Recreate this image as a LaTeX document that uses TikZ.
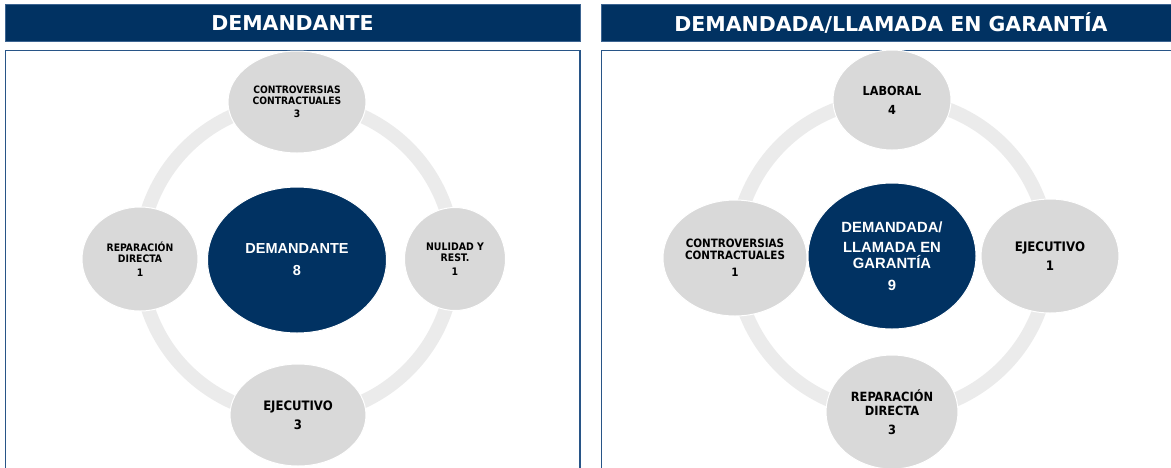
\documentclass[tikz,border=0pt]{standalone}
\usepackage{fontspec}
\newfontfamily\tah{DejaVu Sans}
\newfontfamily\tahc{DejaVu Sans Condensed}
\newfontfamily\arl{Liberation Sans}
\usetikzlibrary{shapes.geometric}
\definecolor{navy}{RGB}{1,50,98}
\definecolor{navyedge}{RGB}{60,100,145}
\definecolor{panelline}{RGB}{40,85,135}
\definecolor{bubble}{RGB}{217,217,217}
\definecolor{ringgray}{RGB}{235,235,235}
\tikzset{
  header/.style={fill=navy, draw=navyedge, line width=0.8pt},
  headtext/.style={text=white, font=\tah\bfseries\fontsize{20.5}{24}\selectfont},
  panel/.style={draw=panelline, line width=1.2pt},
  ring/.style={draw=ringgray, line width=14pt},
  bub/.style={ellipse, fill=bubble, draw=white, line width=1pt, inner sep=0pt, align=center, text=black},
  core/.style={ellipse, fill=navy, draw=white, line width=1pt, inner sep=0pt, align=center, text=white, font=\arl\bfseries\fontsize{14.5}{17}\selectfont},
}
\begin{document}
\begin{tikzpicture}[x=1pt,y=-1pt]
\useasboundingbox (0,0) rectangle (1171,467);
\clip (0,0) rectangle (1171,467);
% headers
\path[header] (5,4) rectangle (580,41);
\node[headtext] (h1) at (292.5,23) {DEMANDANTE};
\path[header] (601,4) rectangle (1175,41);
\node[headtext] (h2) at (891,23) {DEMANDADA/LLAMADA EN GARANT\'IA};
% panels
\draw[panel] (5.5,50.5) rectangle (580,480);
\draw[panel] (601.5,50.5) rectangle (1185,480);
% rings
\draw[ring] (297,259) circle [radius=157pt];
\draw[ring] (892,256) circle [radius=157pt];
% left panel bubbles
\node[bub, minimum width=138pt, minimum height=102pt, font=\tahc\bfseries\fontsize{10.2}{11}\selectfont] (lcc) at (297,102) {CONTROVERSIAS\\CONTRACTUALES\\[2pt]3};
\node[bub, minimum width=116pt, minimum height=104pt, font=\tahc\bfseries\fontsize{10.3}{11}\selectfont] (lrd) at (140,259) {REPARACI\'ON\\DIRECTA\\[3pt]1};
\node[bub, minimum width=101pt, minimum height=103pt, font=\tahc\bfseries\fontsize{10.4}{11}\selectfont] (lnr) at (455,259) {NULIDAD Y\\REST.\\[3pt]1};
\node[bub, minimum width=136pt, minimum height=102pt, font=\tahc\bfseries\fontsize{13}{19}\selectfont] (lej) at (298,415) {EJECUTIVO\\3};
\node[core, minimum width=179pt, minimum height=146pt] (ldem) at (297,260) {DEMANDANTE\\[5pt]8};
% right panel bubbles
\node[bub, minimum width=118pt, minimum height=100pt, font=\tahc\bfseries\fontsize{12.5}{19}\selectfont] (rlab) at (892,100) {LABORAL\\4};
\node[bub, minimum width=144pt, minimum height=116pt, font=\tahc\bfseries\fontsize{11.5}{12}\selectfont] (rcc) at (735,258) {CONTROVERSIAS\\CONTRACTUALES\\[5pt]1};
\node[bub, minimum width=138pt, minimum height=114pt, font=\tahc\bfseries\fontsize{13.1}{19}\selectfont] (rej) at (1050,256) {EJECUTIVO\\1};
\node[bub, minimum width=132pt, minimum height=114pt, font=\tahc\bfseries\fontsize{12.7}{14}\selectfont] (rrd) at (892,412) {REPARACI\'ON\\DIRECTA\\[5pt]3};
\node[core, minimum width=168pt, minimum height=146pt, font=\arl\bfseries\fontsize{14.8}{16}\selectfont] (rdem) at (892,256) {DEMANDADA/\\[4pt]LLAMADA EN\\GARANT\'IA\\[6pt]9};
\end{tikzpicture}
\end{document}
